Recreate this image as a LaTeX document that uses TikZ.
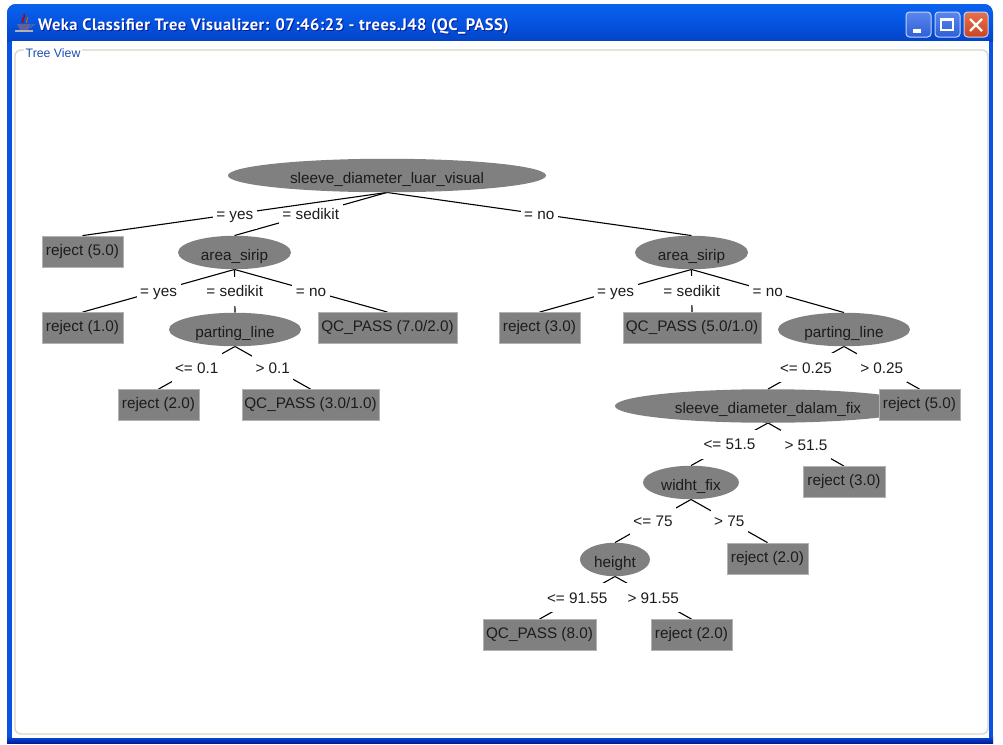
\documentclass[tikz,border=0pt]{standalone}
\usepackage{fontspec}
\setmainfont{Liberation Sans}
\newfontfamily\titlefont[BoldFont={PT Sans Bold},BoldFeatures={LetterSpace=2.9}]{PT Sans}
\usetikzlibrary{shapes.geometric}
\definecolor{nodegray}{HTML}{808080}
\definecolor{inkdark}{HTML}{1C1C1C}
\definecolor{panelline}{HTML}{D6D3C6}
\definecolor{treeblue}{HTML}{1A4FB5}
\definecolor{xptop}{HTML}{0A62EE}
\definecolor{xpmid}{HTML}{0554E0}
\definecolor{xpbot}{HTML}{0344C8}
\definecolor{xpedge}{HTML}{0A52E4}
\definecolor{xpbase}{HTML}{001C9C}
\definecolor{btntop}{HTML}{5A86EC}
\definecolor{btnbot}{HTML}{2F5FD8}
\definecolor{btnline}{HTML}{C4D4F6}
\definecolor{closetop}{HTML}{E8704A}
\definecolor{closebot}{HTML}{CC4422}
\pgfdeclarelayer{chrome}\pgfdeclarelayer{edges}
\pgfsetlayers{chrome,edges,main}
\newcommand{\treefont}{\fontsize{15.3}{18}\selectfont}
\newcommand{\captionfont}{\titlefont\fontsize{16.5}{18}\selectfont\bfseries}
\tikzset{
  leafbox/.style={rectangle,fill=nodegray,draw=gray!60,line width=0.8pt,inner sep=0pt,minimum height=31pt,
    font=\treefont,text=inkdark,text height=10pt,text depth=3pt},
  splitnode/.style={ellipse,fill=nodegray,draw=none,inner sep=0pt,minimum height=33.5pt,
    font=\treefont,text=inkdark,text height=17pt,text depth=2pt},
  tedge/.style={draw=black,line width=1.1pt},
  tlab/.style={fill=white,inner xsep=3.5pt,inner ysep=6pt,text height=14pt,text depth=3pt,font=\treefont,text=inkdark},
  capbtn/.style={rounded corners=3.5pt,draw=btnline,line width=1pt}
}
\begin{document}
\begin{tikzpicture}[x=1pt,y=-1pt]
\useasboundingbox (0,0) rectangle (1003,744);

% nodes of the tree
\node[splitnode,minimum width=318pt] (root) at (387,175.5) {sleeve\_diameter\_luar\_visual};
\node[leafbox,minimum width=81pt] (r5a) at (82.5,251.5) {reject (5.0)};
\node[splitnode,minimum width=113pt] (as1) at (234.5,252.5) {area\_sirip};
\node[splitnode,minimum width=113pt] (as2) at (691.5,252.5) {area\_sirip};
\node[leafbox,minimum width=81pt] (r1) at (82.5,328) {reject (1.0)};
\node[splitnode,minimum width=132pt] (pl1) at (235,329.5) {parting\_line};
\node[leafbox,minimum width=139pt] (qc7) at (387.5,328) {QC\_PASS (7.0/2.0)};
\node[leafbox,minimum width=81pt] (r2a) at (158.5,405) {reject (2.0)};
\node[leafbox,minimum width=137pt] (qc3) at (310.5,405) {QC\_PASS (3.0/1.0)};
\node[leafbox,minimum width=81pt] (r3a) at (539.5,328) {reject (3.0)};
\node[leafbox,minimum width=138pt] (qc5) at (692,328) {QC\_PASS (5.0/1.0)};
\node[splitnode,minimum width=132pt] (pl2) at (844,329.5) {parting\_line};
\node[splitnode,minimum width=306pt] (sd) at (768,406) {sleeve\_diameter\_dalam\_fix};
\node[leafbox,minimum width=81pt] (r5b) at (919.5,405) {reject (5.0)};
\node[splitnode,minimum width=96pt] (wf) at (691,482.5) {widht\_fix};
\node[leafbox,minimum width=82pt] (r3b) at (844,482) {reject (3.0)};
\node[splitnode,minimum width=70pt] (ht) at (615,559.5) {height};
\node[leafbox,minimum width=81pt] (r2b) at (767.5,558.5) {reject (2.0)};
\node[leafbox,minimum width=113pt] (qc8) at (539.5,635) {QC\_PASS (8.0)};
\node[leafbox,minimum width=81pt] (r2c) at (691.5,635) {reject (2.0)};

\begin{pgfonlayer}{chrome}
  % window frame
  \fill[white] (0,0) rectangle (1003,744);
  \begin{scope}
    \clip[rounded corners=9pt] (7,760) -- (7,4) -- (993,4) -- (993,760) -- cycle;
    \fill[xpedge] (7,4) rectangle (993,743);
    \shade[top color=xptop,bottom color=xpbot,middle color=xpmid] (7,4) rectangle (993,41);
    \shade[top color=xpedge,bottom color=xpbase] (7,736) rectangle (993,743);
  \end{scope}
  \fill[white] (12,41) rectangle (989,738);
  \draw[panelline,line width=1.2pt,rounded corners=6pt] (15,50) rectangle (988,734);
  % caption and panel title
  \node[anchor=base west,inner sep=0pt,text=xpbase] (cap2) at (39,31) {\captionfont Weka Classifier Tree Visualizer: 07:46:23 - trees.J48 (QC\_PASS)};
  \node[anchor=base west,inner sep=0pt,text=white] (cap) at (38,30) {\captionfont Weka Classifier Tree Visualizer: 07:46:23 - trees.J48 (QC\_PASS)};
  \node[anchor=base west,fill=white,inner xsep=2pt,inner ysep=1pt,text=treeblue,font=\fontsize{12.3}{14}\selectfont] (tv) at (23.5,57) {Tree View};
  % java icon
  \fill[blue!25!gray] (17,24) -- (31,24) -- (28,30) -- (20,30) -- cycle;
  \draw[blue!25!gray,line width=1pt] (31,25) -- (34,24.5) -- (30,28);
  \fill[gray!60!white] (15,30) rectangle (33,32);
  \draw[red!70!black,line width=1.5pt] (23,23) .. controls (20,20) and (26,18) .. (24,14);
  \draw[orange!80!black,line width=1pt] (27,23) .. controls (25,21) and (29,19) .. (27,17);
  % caption buttons
  \shade[capbtn,top color=btntop,bottom color=btnbot] (906,12) rectangle (931,37);
  \fill[white] (913,29) rectangle (921,32.5);
  \shade[capbtn,top color=btntop,bottom color=btnbot] (935,12) rectangle (960,37);
  \draw[white,line width=1.2pt] (941,19) rectangle (953,30);
  \fill[white] (941,18) rectangle (953,21);
  \shade[capbtn,top color=closetop,bottom color=closebot] (964,12) rectangle (988,37);
  \draw[white,line width=2.4pt] (970,19) -- (982,31) (982,19) -- (970,31);
\end{pgfonlayer}

\begin{pgfonlayer}{edges}
  \draw[tedge] (root.south) -- node[tlab] (l1b) {= sedikit} (as1.north);
  \draw[tedge] (root.south) -- node[tlab] (l1a) {= yes} (r5a.north);
  \draw[tedge] (root.south) -- node[tlab] (l1c) {= no} (as2.north);
  \draw[tedge] (as1.south) -- node[tlab] (l2b) {= sedikit} (pl1.north);
  \draw[tedge] (as1.south) -- node[tlab] (l2a) {= yes} (r1.north);
  \draw[tedge] (as1.south) -- node[tlab] (l2c) {= no} (qc7.north);
  \draw[tedge] (pl1.south) -- node[tlab] (l3a) {<= 0.1} (r2a.north);
  \draw[tedge] (pl1.south) -- node[tlab] (l3b) {> 0.1} (qc3.north);
  \draw[tedge] (as2.south) -- node[tlab] (l4b) {= sedikit} (qc5.north);
  \draw[tedge] (as2.south) -- node[tlab] (l4a) {= yes} (r3a.north);
  \draw[tedge] (as2.south) -- node[tlab] (l4c) {= no} (pl2.north);
  \draw[tedge] (pl2.south) -- node[tlab] (l5a) {<= 0.25} (sd.north);
  \draw[tedge] (pl2.south) -- node[tlab] (l5b) {> 0.25} (r5b.north);
  \draw[tedge] (sd.south) -- node[tlab] (l6a) {<= 51.5} (wf.north);
  \draw[tedge] (sd.south) -- node[tlab] (l6b) {> 51.5} (r3b.north);
  \draw[tedge] (wf.south) -- node[tlab] (l7a) {<= 75} (ht.north);
  \draw[tedge] (wf.south) -- node[tlab] (l7b) {> 75} (r2b.north);
  \draw[tedge] (ht.south) -- node[tlab] (l8a) {<= 91.55} (qc8.north);
  \draw[tedge] (ht.south) -- node[tlab] (l8b) {> 91.55} (r2c.north);
\end{pgfonlayer}
\end{tikzpicture}
\end{document}
